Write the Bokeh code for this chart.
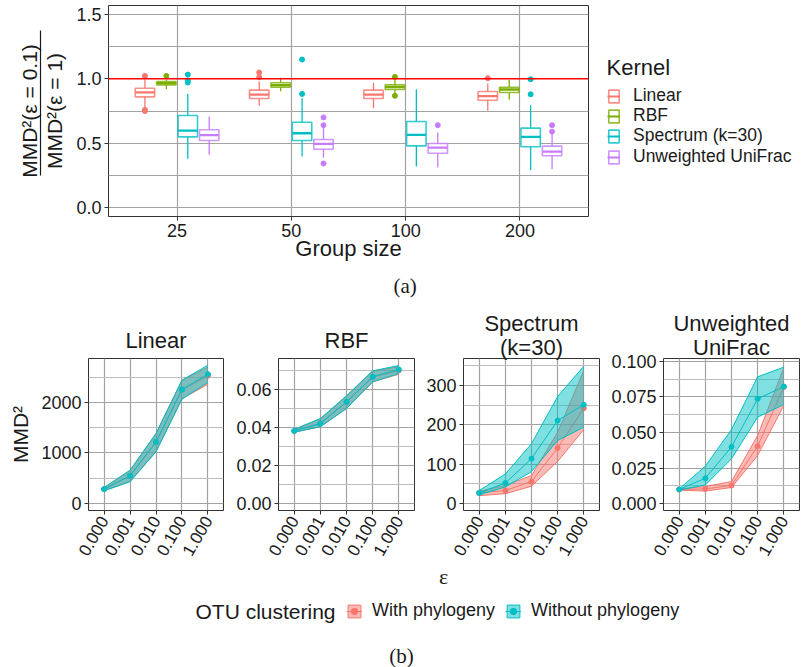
import math
from bokeh.plotting import figure
from bokeh.models import (Range1d, FixedTicker, LinearAxis, Legend, LegendItem,
                          Span, ColumnDataSource, Title, NumeralTickFormatter)
from bokeh.layouts import column, row
from bokeh.core.properties import value
from bokeh.embed import file_html
from bokeh.resources import INLINE

SANS = "Liberation Sans"
SERIF = "Liberation Serif"
INK = "#1a1a1a"
BORDER = "#333333"
GRID_MAJOR = "#a3a3a3"
GRID_MINOR = "#bdbdbd"

# ---------------- (a) box plots: ratio MMD²(ε=0.1)/MMD²(ε=1) ----------------
GROUP_SIZES = ["25", "50", "100", "200"]
KERNELS = ["Linear", "RBF", "Spectrum (k=30)", "Unweighted UniFrac"]
KERNEL_COLORS = ["#F8766D", "#7CAE00", "#00BFC4", "#C77CFF"]
RATIO_TICKS = [0.0, 0.5, 1.0, 1.5]
RATIO_MINOR = [0.25, 0.75, 1.25]
REFERENCE_RATIO = 1.0

LINEAR_LO = [0.780, 0.790, 0.772, 0.751]
LINEAR_Q1 = [0.860, 0.847, 0.847, 0.834]
LINEAR_MED = [0.894, 0.878, 0.878, 0.865]
LINEAR_Q3 = [0.927, 0.912, 0.912, 0.902]
LINEAR_HI = [0.995, 0.980, 0.970, 0.964]
LINEAR_OUT = [[1.023, 0.759, 0.750], [1.049, 1.013], [], [1.005]]

RBF_LO = [0.920, 0.904, 0.880, 0.837]
RBF_Q1 = [0.953, 0.935, 0.917, 0.894]
RBF_MED = [0.966, 0.950, 0.935, 0.917]
RBF_Q3 = [0.979, 0.969, 0.953, 0.935]
RBF_HI = [0.995, 1.008, 0.990, 0.990]
RBF_OUT = [[1.023], [], [1.015, 0.868], []]

SPECTRUM_LO = [0.378, 0.396, 0.319, 0.290]
SPECTRUM_Q1 = [0.549, 0.521, 0.479, 0.472]
SPECTRUM_MED = [0.598, 0.577, 0.565, 0.549]
SPECTRUM_Q3 = [0.715, 0.663, 0.668, 0.617]
SPECTRUM_HI = [0.883, 0.850, 0.920, 0.795]
SPECTRUM_OUT = [[1.033, 0.987, 0.971], [1.150, 0.883], [], [0.997, 0.880]]

UNIFRAC_LO = [0.409, 0.386, 0.311, 0.298]
UNIFRAC_Q1 = [0.521, 0.453, 0.422, 0.402]
UNIFRAC_MED = [0.562, 0.495, 0.466, 0.435]
UNIFRAC_Q3 = [0.604, 0.528, 0.497, 0.477]
UNIFRAC_HI = [0.707, 0.620, 0.583, 0.575]
UNIFRAC_OUT = [[], [0.700, 0.640, 0.342], [0.640], [0.640, 0.590]]

BOX_STATS = [
    (LINEAR_LO, LINEAR_Q1, LINEAR_MED, LINEAR_Q3, LINEAR_HI, LINEAR_OUT),
    (RBF_LO, RBF_Q1, RBF_MED, RBF_Q3, RBF_HI, RBF_OUT),
    (SPECTRUM_LO, SPECTRUM_Q1, SPECTRUM_MED, SPECTRUM_Q3, SPECTRUM_HI, SPECTRUM_OUT),
    (UNIFRAC_LO, UNIFRAC_Q1, UNIFRAC_MED, UNIFRAC_Q3, UNIFRAC_HI, UNIFRAC_OUT),
]

# ---------------- (b) MMD² versus ε ----------------
EPSILON_LABELS = ["0.000", "0.001", "0.010", "0.100", "1.000"]
SERIES_NAMES = ["With phylogeny", "Without phylogeny"]
SERIES_COLORS = ["#F8766D", "#00BFC4"]
PANEL_TITLES = [["Linear"], ["RBF"], ["Spectrum", "(k=30)"], ["Unweighted", "UniFrac"]]

LIN_WITH_MEAN = [285, 545, 1215, 2250, 2530]
LIN_WITH_LO = [255, 440, 1030, 2075, 2360]
LIN_WITH_HI = [310, 650, 1380, 2440, 2700]
LIN_WITHOUT_MEAN = [284, 548, 1221, 2257, 2561]
LIN_WITHOUT_LO = [251, 429, 1023, 2066, 2400]
LIN_WITHOUT_HI = [317, 660, 1386, 2442, 2739]

RBF_WITH_MEAN = [0.0382, 0.0421, 0.0533, 0.0665, 0.0700]
RBF_WITH_LO = [0.0375, 0.0404, 0.0500, 0.0640, 0.0680]
RBF_WITH_HI = [0.0390, 0.0445, 0.0565, 0.0695, 0.0720]
RBF_WITHOUT_MEAN = [0.0382, 0.0421, 0.0535, 0.0667, 0.0705]
RBF_WITHOUT_LO = [0.0375, 0.0404, 0.0500, 0.0640, 0.0684]
RBF_WITHOUT_HI = [0.0390, 0.0447, 0.0567, 0.0698, 0.0726]

SPEC_WITH_MEAN = [27, 33, 56, 141, 242]
SPEC_WITH_LO = [20, 25, 44, 107, 188]
SPEC_WITH_HI = [31, 46, 71, 181, 338]
SPEC_WITHOUT_MEAN = [27, 52, 114, 211, 251]
SPEC_WITHOUT_LO = [22, 42, 81, 160, 194]
SPEC_WITHOUT_HI = [33, 75, 152, 272, 349]

UNI_WITH_MEAN = [0.0099, 0.0103, 0.0127, 0.0404, 0.0820]
UNI_WITH_LO = [0.0094, 0.0088, 0.0113, 0.0338, 0.0690]
UNI_WITH_HI = [0.0103, 0.0120, 0.0155, 0.0479, 0.0955]
UNI_WITHOUT_MEAN = [0.0099, 0.0178, 0.0399, 0.0737, 0.0824]
UNI_WITHOUT_LO = [0.0094, 0.0131, 0.0315, 0.0608, 0.0697]
UNI_WITHOUT_HI = [0.0103, 0.0263, 0.0521, 0.0892, 0.0960]

LIN_TICKS, LIN_MINOR = [0, 1000, 2000], [500, 1500, 2500]
RBF_TICKS, RBF_MINOR = [0, 0.02, 0.04, 0.06], [0.01, 0.03, 0.05, 0.07]
SPEC_TICKS, SPEC_MINOR = [0, 100, 200, 300], [50, 150, 250, 350]
UNI_TICKS, UNI_MINOR = [0, 0.025, 0.05, 0.075, 0.1], [0.0125, 0.0375, 0.0625, 0.0875]


def style_common(p, tick_px):
    p.outline_line_color = BORDER
    p.outline_line_width = 1
    for ax in p.axis:
        ax.axis_line_color = None
        ax.major_tick_line_color = BORDER
        ax.major_tick_out = 4
        ax.major_tick_in = 0
        ax.minor_tick_line_color = None
        ax.major_label_text_font = SANS
        ax.major_label_text_font_size = tick_px
        ax.major_label_text_color = INK
        ax.major_label_standoff = 3
        ax.axis_label_text_font = SANS
        ax.axis_label_text_font_style = "normal"
        ax.axis_label_text_color = INK
    p.grid.grid_line_color = GRID_MAJOR
    p.grid.grid_line_width = 1.2


def spacer_axis(px):
    """An empty axis used only to push a title a few pixels away from the frame."""
    return LinearAxis(ticker=FixedTicker(ticks=[]), axis_line_color=None,
                      major_tick_line_color=None, minor_tick_line_color=None,
                      major_tick_out=px, minor_tick_out=0, major_tick_in=0,
                      minor_tick_in=0, major_label_standoff=0)


TOP_H, TOP_BOTTOM = 307, 91       # top row: frame spans page y 5..216
LEG_W = 213                       # legend column, page x 590..803

# ================= top figure =================
group_pos = list(range(1, len(GROUP_SIZES) + 1))
top = figure(width=590, height=TOP_H, x_range=Range1d(0.4, len(GROUP_SIZES) + 0.6),
             y_range=Range1d(-0.07, 1.57), output_backend="svg", toolbar_location=None,
             min_border_left=108, min_border_right=2, min_border_top=5,
             min_border_bottom=TOP_BOTTOM)
style_common(top, "18px")
x_ticker = FixedTicker(ticks=group_pos)
top.xaxis.ticker = x_ticker
top.xgrid.ticker = x_ticker
top.xaxis.major_label_overrides = dict(zip(group_pos, GROUP_SIZES))
top.xaxis.axis_label = "Group size"
top.xaxis.axis_label_text_font_size = "22px"
top.xaxis.axis_label_standoff = -4
y_ticker = FixedTicker(ticks=RATIO_TICKS, minor_ticks=RATIO_MINOR)
top.yaxis.ticker = y_ticker
top.ygrid.ticker = y_ticker
top.yaxis.formatter = NumeralTickFormatter(format="0.0")
top.ygrid.minor_grid_line_color = GRID_MAJOR
top.ygrid.minor_grid_line_width = 1.2
top.yaxis.axis_label = "MMD²(ε = 1)"
top.yaxis.axis_label_text_font_size = "21px"
top.yaxis.axis_label_standoff = 7

# legend host to the right of the box plots (coordinates = page pixels)
legfig = figure(width=LEG_W, height=TOP_H, x_range=Range1d(590, 803),
                y_range=Range1d(TOP_BOTTOM, TOP_H - 5), output_backend="svg",
                toolbar_location=None, x_axis_location=None, y_axis_location=None,
                min_border_left=0, min_border_right=0, min_border_top=5,
                min_border_bottom=TOP_BOTTOM)
legfig.outline_line_color = None
legfig.grid.visible = False

step = 0.75 / len(KERNELS)
half_box = 0.085
key_rows = [95.5, 116, 136.5, 157]   # page y of each legend key
for k, (name, color, stats) in enumerate(zip(KERNELS, KERNEL_COLORS, BOX_STATS)):
    lo, q1, med, q3, hi, outliers = stats
    off = (k - (len(KERNELS) - 1) / 2) * step
    xs = [g + off for g in group_pos]
    src = ColumnDataSource(dict(x=xs, left=[x - half_box for x in xs],
                                right=[x + half_box for x in xs],
                                lo=lo, q1=q1, med=med, q3=q3, hi=hi))
    top.segment(x0="x", y0="q3", x1="x", y1="hi", source=src, line_color=color, line_width=1.3)
    top.segment(x0="x", y0="q1", x1="x", y1="lo", source=src, line_color=color, line_width=1.3)
    top.quad(left="left", right="right", bottom="q1", top="q3", source=src,
             fill_color="white", line_color=color, line_alpha=0.8, line_width=1.6)
    top.segment(x0="left", y0="med", x1="right", y1="med", source=src,
                line_color=color, line_width=2.3)
    ox, oy = [], []
    for g, vals in zip(group_pos, outliers):
        for v in vals:
            ox.append(g + off)
            oy.append(v)
    top.scatter(ox, oy, size=5, color=color)
    # legend key (same data, not displayed in the host figure)
    kb = legfig.quad(left="left", right="right", bottom="q1", top="q3", source=src,
                     fill_color="white", line_color=color, line_alpha=0.8, line_width=1.6,
                     visible=False)
    km = legfig.segment(x0="left", y0="med", x1="right", y1="med", source=src,
                        line_color=color, line_width=2.0, visible=False)
    leg = Legend(items=[LegendItem(label=name, renderers=[kb, km])],
                 location=(17, int(round(216 - key_rows[k] - 10))),
                 label_text_font=SANS, label_text_font_size="17.5px", label_text_color=INK,
                 glyph_width=13, glyph_height=16, label_height=16, label_standoff=13,
                 padding=0, margin=0, border_line_color=None, background_fill_alpha=0)
    legfig.add_layout(leg)

legfig.text(x=[606], y=[TOP_H - 67], text=["Kernel"], text_font=value(SANS),
            text_font_size="22px", text_align="left", text_baseline="middle", text_color=INK)

top.add_layout(Span(location=REFERENCE_RATIO, dimension="width", line_color="#FF0000", line_width=1.5))

bar_axis = LinearAxis(ticker=FixedTicker(ticks=[]), bounds=(0.25, 1.375),
                      axis_line_color=INK, axis_line_width=1.2,
                      major_tick_line_color=None, minor_tick_line_color=None,
                      major_tick_out=0, major_label_standoff=0)
top.add_layout(bar_axis, "left")
num_axis = LinearAxis(ticker=FixedTicker(ticks=[]), axis_line_color=None,
                      major_tick_line_color=None, minor_tick_line_color=None,
                      major_tick_out=0, major_label_standoff=0,
                      axis_label="MMD²(ε = 0.1)", axis_label_standoff=0,
                      axis_label_text_font=SANS, axis_label_text_font_size="21px",
                      axis_label_text_font_style="normal", axis_label_text_color=INK)
top.add_layout(num_axis, "left")

top.add_layout(Title(text="(a)", align="left", offset=285, text_font=SERIF,
                     text_font_size="21px", text_font_style="normal", text_color=INK,
                     standoff=16), "below")

# ================= bottom panels =================
eps_pos = list(range(1, len(EPSILON_LABELS) + 1))


def make_panel(title_lines, series, yrange, ticks, minor, fmt, width, mbl, mbr, ylabel=None):
    p = figure(width=width, height=256, x_range=Range1d(0.4, len(EPSILON_LABELS) + 0.6),
               y_range=Range1d(*yrange), output_backend="svg", toolbar_location=None,
               min_border_left=mbl, min_border_right=mbr, min_border_top=51,
               min_border_bottom=53, title=title_lines[0])
    style_common(p, "18px")
    xt = FixedTicker(ticks=eps_pos)
    p.xaxis.ticker = xt
    p.xgrid.ticker = xt
    p.xaxis.major_label_overrides = dict(zip(eps_pos, EPSILON_LABELS))
    p.xaxis.major_label_orientation = math.pi / 3
    p.xaxis.major_label_text_font_size = "17px"
    yt = FixedTicker(ticks=ticks, minor_ticks=minor)
    p.yaxis.ticker = yt
    p.ygrid.ticker = yt
    p.yaxis.formatter = NumeralTickFormatter(format=fmt)
    p.ygrid.minor_grid_line_color = GRID_MINOR
    p.ygrid.minor_grid_line_width = 1.2
    if ylabel:
        p.yaxis.axis_label = ylabel
        p.yaxis.axis_label_text_font_size = "21px"
        p.yaxis.axis_label_standoff = 6
    titles = [p.title]
    if len(title_lines) > 1:
        lower = Title(text=title_lines[1])
        p.add_layout(lower, "above")
        titles.append(lower)
        p.title.standoff = -3
        lower.standoff = -3
    else:
        # added after the x axis has been styled, so it stays empty
        p.add_layout(spacer_axis(4), "above")
        p.title.vertical_align = "top"
        p.title.standoff = 8
    for t in titles:
        t.align = "center"
        t.text_font = SANS
        t.text_font_size = "22px"
        t.text_font_style = "normal"
        t.text_color = INK
        t.text_line_height = 1.0
    for color, (mean, lo, hi) in zip(SERIES_COLORS, series):
        src = ColumnDataSource(dict(x=eps_pos, mean=mean, lo=lo, hi=hi))
        p.varea(x="x", y1="lo", y2="hi", source=src, fill_color=color, fill_alpha=0.5)
        p.line("x", "lo", source=src, line_color=color, line_width=1)
        p.line("x", "hi", source=src, line_color=color, line_width=1)
        p.line("x", "mean", source=src, line_color=color, line_width=1)
        p.scatter("x", "mean", source=src, size=5, color=color)
    return p


p1 = make_panel(PANEL_TITLES[0],
                [(LIN_WITH_MEAN, LIN_WITH_LO, LIN_WITH_HI),
                 (LIN_WITHOUT_MEAN, LIN_WITHOUT_LO, LIN_WITHOUT_HI)],
                (-139, 2871), LIN_TICKS, LIN_MINOR, "0", 230, 88, 7, ylabel="MMD²")
p2 = make_panel(PANEL_TITLES[1],
                [(RBF_WITH_MEAN, RBF_WITH_LO, RBF_WITH_HI),
                 (RBF_WITHOUT_MEAN, RBF_WITHOUT_LO, RBF_WITHOUT_HI)],
                (-0.0037, 0.0763), RBF_TICKS, RBF_MINOR, "0.00", 190, 48, 6)
p3 = make_panel(PANEL_TITLES[2],
                [(SPEC_WITH_MEAN, SPEC_WITH_LO, SPEC_WITH_HI),
                 (SPEC_WITHOUT_MEAN, SPEC_WITHOUT_LO, SPEC_WITHOUT_HI)],
                (-17.8, 368.6), SPEC_TICKS, SPEC_MINOR, "0", 183, 43, 4)
p4 = make_panel(PANEL_TITLES[3],
                [(UNI_WITH_MEAN, UNI_WITH_LO, UNI_WITH_HI),
                 (UNI_WITHOUT_MEAN, UNI_WITHOUT_LO, UNI_WITHOUT_HI)],
                (-0.0049, 0.1021), UNI_TICKS, UNI_MINOR, "0.000", 200, 60, 4)

# ================= footer: ε, legend, (b) =================
foot = figure(width=803, height=104, x_range=Range1d(0, 803), y_range=Range1d(0, 104),
              output_backend="svg", toolbar_location=None,
              x_axis_location=None, y_axis_location=None, min_border=0)
foot.outline_line_color = None
foot.grid.visible = False
foot.text(x=[443], y=[91], text=["ε"], text_font=value(SERIF), text_font_size="22px",
          text_align="center", text_baseline="middle", text_color=INK)
foot.text(x=[195], y=[56], text=["OTU clustering"], text_font=value(SANS), text_font_size="21px",
          text_align="left", text_baseline="middle", text_color=INK)
foot.text(x=[401], y=[12], text=["(b)"], text_font=value(SERIF), text_font_size="21px",
          text_align="center", text_baseline="middle", text_color=INK)

foot_items = []
band_x = eps_pos + eps_pos[::-1]
for name, color, (mean, lo, hi) in zip(SERIES_NAMES, SERIES_COLORS,
                                       [(UNI_WITH_MEAN, UNI_WITH_LO, UNI_WITH_HI),
                                        (UNI_WITHOUT_MEAN, UNI_WITHOUT_LO, UNI_WITHOUT_HI)]):
    band = foot.patch(band_x, lo + hi[::-1], fill_color=color, fill_alpha=0.5,
                      line_color=color, line_width=1, visible=False)
    ln = foot.line(eps_pos, mean, line_color=color, line_width=1, visible=False)
    pt = foot.scatter(eps_pos, mean, size=5, color=color, visible=False)
    foot_items.append(LegendItem(label=name, renderers=[band, ln, pt]))

leg_foot = Legend(items=foot_items, orientation="horizontal", location=(346, 46),
                  label_text_font=SANS, label_text_font_size="18px", label_text_color=INK,
                  glyph_width=16, glyph_height=16, label_height=16, label_standoff=10,
                  spacing=10, padding=0, margin=0, border_line_color=None,
                  background_fill_alpha=0)
foot.add_layout(leg_foot)

layout = column(row(top, legfig), row(p1, p2, p3, p4), row(foot))
open("out.html", "w").write(file_html(layout, INLINE))
